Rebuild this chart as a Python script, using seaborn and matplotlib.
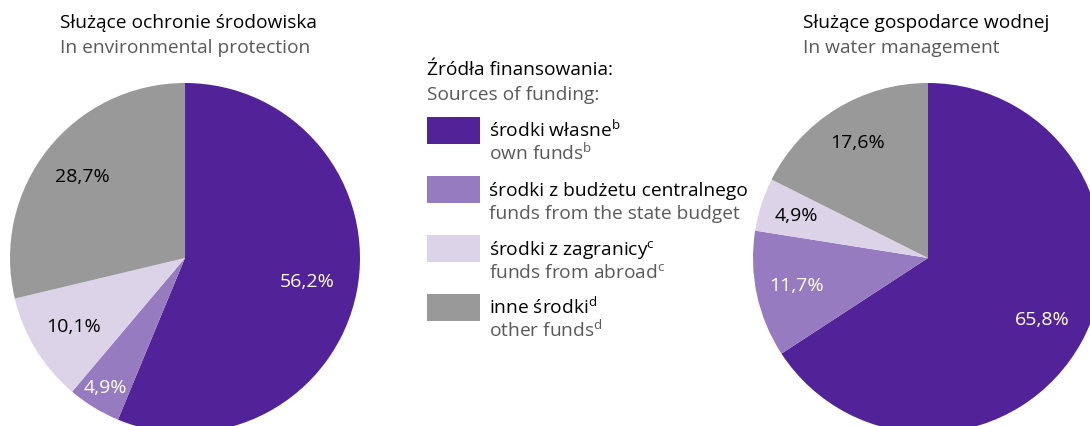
import numpy as np
import seaborn as sns
import matplotlib.pyplot as plt

# funding sources (legend), Polish + English
sources_pl = ['środki własne', 'środki z budżetu centralnego', 'środki z zagranicy', 'inne środki']
sources_en = ['own funds', 'funds from the state budget', 'funds from abroad', 'other funds']
footnotes = ['b', '', 'c', 'd']

# shares in %
env_values = [56.2, 4.9, 10.1, 28.7]
water_values = [65.8, 11.7, 4.9, 17.6]

colors = ['#522398', '#967BC0', '#DCD3E9', '#999999']
label_colors = ['white', 'white', 'black', 'black']
dark_grey = '#595959'
fs = 13.8

sns.set_style('white')
plt.rcParams['font.family'] = ['Open Sans', 'DejaVu Sans']
plt.rcParams['mathtext.fontset'] = 'custom'
plt.rcParams['mathtext.rm'] = 'Open Sans'
plt.rcParams['mathtext.it'] = 'Open Sans'

W, H = 1090, 426
fig = plt.figure(figsize=(W / 100, H / 100), dpi=100)


def px_axes(x0, y0, w, h):
    # pixel box measured from the top-left corner
    return fig.add_axes([x0 / W, (H - y0 - h) / H, w / W, h / H])


def draw_pie(ax, values, dists):
    wedges, _ = ax.pie(values, colors=colors, startangle=90, counterclock=False,
                       radius=1, wedgeprops=dict(linewidth=0))
    for w, v, c, d in zip(wedges, values, label_colors, dists):
        mid = np.deg2rad((w.theta1 + w.theta2) / 2)
        ax.text(d * np.cos(mid), d * np.sin(mid), f'{v:.1f}'.replace('.', ',') + '%',
                ha='center', va='center', color=c, fontsize=14)
    ax.set_xlim(-1, 1)
    ax.set_ylim(-1, 1)
    ax.set_aspect('equal')
    ax.axis('off')


ax1 = px_axes(10, 83, 350, 350)
draw_pie(ax1, env_values, [0.71, 0.87, 0.75, 0.75])

ax2 = px_axes(753, 83, 350, 350)
draw_pie(ax2, water_values, [0.74, 0.77, 0.79, 0.77])

# titles
fig.text(60 / W, 1 - 28 / H, 'Służące ochronie środowiska', fontsize=fs, color='black', va='baseline')
fig.text(60 / W, 1 - 53 / H, 'In environmental protection', fontsize=fs, color=dark_grey, va='baseline')
fig.text(803 / W, 1 - 28 / H, 'Służące gospodarce wodnej', fontsize=fs, color='black', va='baseline')
fig.text(803 / W, 1 - 53 / H, 'In water management', fontsize=fs, color=dark_grey, va='baseline')

# legend
fig.text(427 / W, 1 - 75 / H, 'Źródła finansowania:', fontsize=fs, color='black', va='baseline')
fig.text(427 / W, 1 - 100 / H, 'Sources of funding:', fontsize=fs, color=dark_grey, va='baseline')

for i, (pl, en, fn, col) in enumerate(zip(sources_pl, sources_en, footnotes, colors)):
    top = 117 + i * 59
    fig.patches.append(plt.Rectangle((427 / W, 1 - (top + 27) / H), 53 / W, 27 / H,
                                     transform=fig.transFigure, facecolor=col, edgecolor='none'))
    sup = f'$^{{\\mathrm{{{fn}}}}}$' if fn else ''
    fig.text(489 / W, 1 - (top + 20) / H, pl + sup, fontsize=fs, color='black', va='baseline')
    fig.text(489 / W, 1 - (top + 43) / H, en + sup, fontsize=fs, color=dark_grey, va='baseline')

fig.savefig('out.png', dpi=100)
